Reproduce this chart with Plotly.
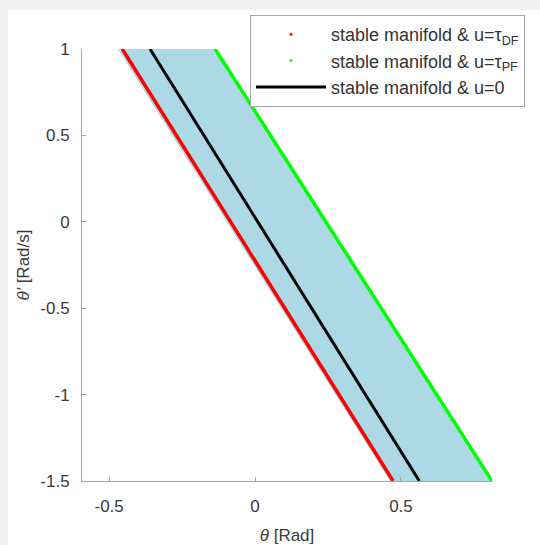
import plotly.graph_objects as go

# data
theta_red = [-0.455, 0.473]
theta_black = [-0.36, 0.563]
theta_green = [-0.137, 0.812]
dtheta = [1.0, -1.5]
fill_theta = [-0.47, -0.137, 0.812, 0.462]
fill_dtheta = [1.0, 1.0, -1.5, -1.5]
xticks = [-0.5, 0, 0.5]
xtick_text = ["-0.5", "0", "0.5"]
yticks = [-1.5, -1, -0.5, 0, 0.5, 1]
ytick_text = ["-1.5", "-1", "-0.5", "0", "0.5", "1"]
labels = ["stable manifold & u=τ<sub>DF</sub>",
          "stable manifold & u=τ<sub>PF</sub>",
          "stable manifold & u=0"]

fig = go.Figure()
fig.add_trace(go.Scatter(x=fill_theta, y=fill_dtheta, fill="toself", mode="none",
                         fillcolor="#add8e6", showlegend=False, hoverinfo="skip"))
fig.add_trace(go.Scatter(x=theta_red, y=dtheta, mode="lines",
                         line=dict(color="#ff0000", width=3.5), showlegend=False))
fig.add_trace(go.Scatter(x=theta_green, y=dtheta, mode="lines",
                         line=dict(color="#00ff00", width=3.5), showlegend=False))
fig.add_trace(go.Scatter(x=theta_black, y=dtheta, mode="lines",
                         line=dict(color="#000000", width=3), showlegend=False))
# legend entries
fig.add_trace(go.Scatter(x=[None], y=[None], mode="markers", name=labels[0],
                         marker=dict(color="#ff0000", size=3)))
fig.add_trace(go.Scatter(x=[None], y=[None], mode="markers", name=labels[1],
                         marker=dict(color="#00ff00", size=3)))
fig.add_trace(go.Scatter(x=[None], y=[None], mode="lines", name=labels[2],
                         line=dict(color="#000000", width=3)))

L, R, T, B = 82, 48, 49, 64
W, H = 540, 545
pw, ph = W - L - R, H - T - B

fig.add_shape(type="rect", xref="paper", yref="paper",
              x0=(8 - L) / pw, x1=(W + 5 - L) / pw,
              y0=-(B + 5) / ph, y1=(ph + T - 10) / ph,
              fillcolor="white", line=dict(width=0), layer="below")

axis_common = dict(showgrid=False, zeroline=False, showline=True, linecolor="#a6a6a6",
                   linewidth=1, ticks="inside", ticklen=4, tickcolor="#a6a6a6",
                   tickfont=dict(size=17, color="#3a3a3a"), mirror=False)

fig.update_layout(
    width=W, height=H,
    margin=dict(l=L, r=R, t=T, b=B, pad=0, autoexpand=False),
    paper_bgcolor="#f0f0f0", plot_bgcolor="rgba(0,0,0,0)",
    font=dict(family="Liberation Sans, Arial, sans-serif", color="#333333"),
    xaxis=dict(range=[-0.593, 0.812], tickvals=xticks, ticktext=xtick_text,
               ticklabelstandoff=10,
               title=dict(text="<i>θ</i> [Rad]", font=dict(size=17, color="#3a3a3a"), standoff=15),
               **axis_common),
    yaxis=dict(range=[-1.5, 1.0], tickvals=yticks, ticktext=ytick_text,
               ticklabelstandoff=8,
               title=dict(text="<i>θ'</i> [Rad/s]", font=dict(size=17, color="#3a3a3a"), standoff=6),
               **axis_common),
    legend=dict(x=(250 - L) / pw, y=(H - B - 15) / ph, xanchor="left", yanchor="top",
                bgcolor="white", bordercolor="#a6a6a6", borderwidth=1,
                font=dict(size=18, color="#333333"), tracegroupgap=0, itemwidth=70),
    showlegend=True,
)

fig.write_html("out.html")
